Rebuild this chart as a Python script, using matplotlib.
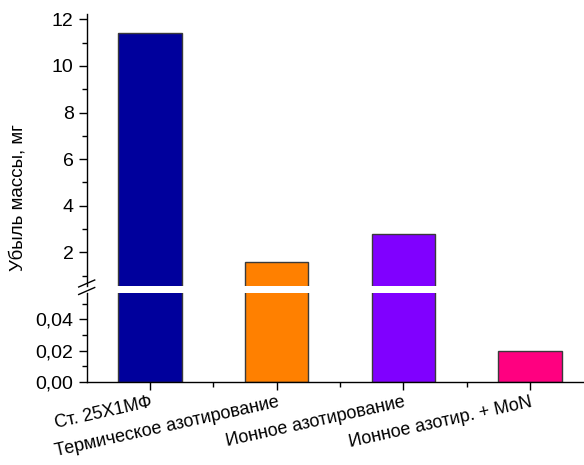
import matplotlib
matplotlib.use("Agg")
import matplotlib.pyplot as plt
from matplotlib.ticker import FixedLocator, FuncFormatter

plt.rcParams['font.family'] = ['Liberation Sans', 'DejaVu Sans']

categories = ["Ст. 25Х1МФ", "Термическое азотирование",
              "Ионное азотирование", "Ионное азотир. + MoN"]
mass_loss = [11.4, 1.6, 2.8, 0.02]
bar_colors = ["#00009C", "#FF8000", "#8000FF", "#FF0080"]
ylabel = "Убыль массы, мг"

W, H = 584, 465
fig = plt.figure(figsize=(W / 100, H / 100), dpi=100)

left = 86.7 / W
width = 1.0 - left
ax_lo = fig.add_axes([left, (H - 381.7) / H, width, (381.7 - 293.3) / H])
ax_hi = fig.add_axes([left, (H - 286.0) / H, width, (286.0 - 14.0) / H])

x = list(range(len(categories)))
for ax in (ax_lo, ax_hi):
    ax.bar(x, mass_loss, width=0.5, color=bar_colors,
           edgecolor="#3a3a3a", linewidth=1.0, zorder=2)
    ax.set_xlim(-0.5, 3.425)
    ax.spines['top'].set_visible(False)
    ax.spines['right'].set_visible(False)
    for s in ax.spines.values():
        s.set_linewidth(1.0)
    ax.tick_params(axis='both', direction='out', labelsize=14, width=1.0)
    ax.tick_params(axis='both', which='major', length=6)
    ax.tick_params(axis='both', which='minor', length=3.5, width=1.0)

ax_lo.set_ylim(0, 0.0567)
ax_lo.yaxis.set_major_locator(FixedLocator([0.0, 0.02, 0.04]))
ax_lo.yaxis.set_minor_locator(FixedLocator([0.01, 0.03, 0.05]))
ax_lo.yaxis.set_major_formatter(FuncFormatter(lambda v, p: f"{v:.2f}".replace('.', ',')))
ax_lo.set_xticks(x)
ax_lo.xaxis.set_minor_locator(FixedLocator([0.5, 1.5, 2.5]))
ax_lo.set_xticklabels(categories, rotation=12.5, ha='right',
                      rotation_mode='anchor', fontsize=13)
ax_lo.tick_params(axis='x', which='major', pad=3)

ax_hi.set_ylim(0.55, 12.23)
ax_hi.yaxis.set_major_locator(FixedLocator([2, 4, 6, 8, 10, 12]))
ax_hi.yaxis.set_minor_locator(FixedLocator([1, 3, 5, 7, 9, 11]))
ax_hi.spines['bottom'].set_visible(False)
ax_hi.tick_params(axis='x', which='both', bottom=False, labelbottom=False)

# break marks on the y axis
x0 = left * W
for yc in (283.5, 291.0):
    fig.add_artist(plt.Line2D([(x0 - 8) / W, (x0 + 8) / W],
                              [(H - yc - 3.5) / H, (H - yc + 3.5) / H],
                              color='black', linewidth=1.0,
                              transform=fig.transFigure))

fig.text(18 / W, (H - 198) / H, ylabel, rotation=90, ha='center',
         va='center', fontsize=13.5)

fig.savefig("out.png", dpi=100)
